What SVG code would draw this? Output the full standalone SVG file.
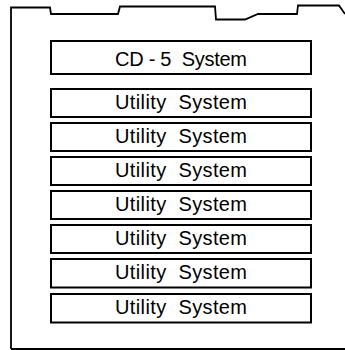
<svg xmlns="http://www.w3.org/2000/svg" width="345" height="350" viewBox="0 0 345 350">
<style>
.box{fill:#fff;stroke:#000;stroke-width:2}
.outline{fill:none;stroke:#000;stroke-width:1.8;stroke-linejoin:miter}
.lbl{font-family:"Liberation Sans",Arial,sans-serif;font-size:20px;fill:#000;text-anchor:middle;white-space:pre}
</style>
<rect width="345" height="350" fill="#fff"/>
<g id="enclosure">
<path class="outline" d="M11,349 L11,7.5 L50,7.5 L51,14 L118,14 L120,6.5 L215,6.5 L216,19.5 L245,19.5 L258,14 L297,14 L298,5.5 L339,5.5 L345,14"/>
<path class="outline" d="M11,349 L345,349"/>
</g>
<g id="cd5">
<rect class="box" x="51" y="41" width="260" height="33"/>
<text class="lbl" x="181" y="66" xml:space="preserve" textLength="132" lengthAdjust="spacing">CD - 5  System</text>
</g>
<g id="util1"><rect class="box" x="51" y="89" width="260" height="28"/><text class="lbl" x="181" y="108.5" xml:space="preserve" textLength="132" lengthAdjust="spacing">Utility  System</text></g>
<g id="util2"><rect class="box" x="51" y="123" width="260" height="28"/><text class="lbl" x="181" y="142.5" xml:space="preserve" textLength="132" lengthAdjust="spacing">Utility  System</text></g>
<g id="util3"><rect class="box" x="51" y="157" width="260" height="28"/><text class="lbl" x="181" y="176.5" xml:space="preserve" textLength="132" lengthAdjust="spacing">Utility  System</text></g>
<g id="util4"><rect class="box" x="51" y="191" width="260" height="28"/><text class="lbl" x="181" y="210.5" xml:space="preserve" textLength="132" lengthAdjust="spacing">Utility  System</text></g>
<g id="util5"><rect class="box" x="51" y="225" width="260" height="28"/><text class="lbl" x="181" y="244.5" xml:space="preserve" textLength="132" lengthAdjust="spacing">Utility  System</text></g>
<g id="util6"><rect class="box" x="51" y="259" width="260" height="28.5"/><text class="lbl" x="181" y="278.5" xml:space="preserve" textLength="132" lengthAdjust="spacing">Utility  System</text></g>
<g id="util7"><rect class="box" x="51" y="294" width="260" height="28.5"/><text class="lbl" x="181" y="313.5" xml:space="preserve" textLength="132" lengthAdjust="spacing">Utility  System</text></g>
<g id="connectors"></g>
</svg>
